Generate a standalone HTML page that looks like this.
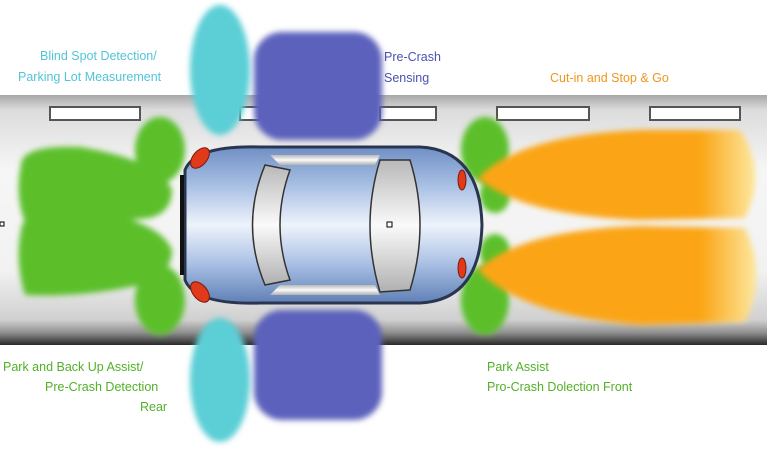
<!DOCTYPE html>
<html><head><meta charset="utf-8"><style>
html,body{margin:0;padding:0;background:#fff;width:767px;height:455px;overflow:hidden}
svg{display:block}
text{font-family:"Liberation Sans",sans-serif;font-size:12.5px}
</style></head><body>
<svg width="767" height="455" viewBox="0 0 767 455" xmlns="http://www.w3.org/2000/svg">
<defs>
<linearGradient id="road" x1="0" y1="0" x2="0" y2="1">
<stop offset="0" stop-color="#a8a8a8"/><stop offset="0.06" stop-color="#dcdcdc"/>
<stop offset="0.3" stop-color="#f6f6f6"/><stop offset="0.7" stop-color="#f2f2f2"/>
<stop offset="0.9" stop-color="#d0d0d0"/><stop offset="0.95" stop-color="#909090"/>
<stop offset="1" stop-color="#2a2a2a"/></linearGradient>
<linearGradient id="car" x1="0" y1="0" x2="0" y2="1">
<stop offset="0" stop-color="#6f8fc4"/><stop offset="0.25" stop-color="#a9c0e4"/>
<stop offset="0.5" stop-color="#eef3fb"/><stop offset="0.75" stop-color="#a9c0e4"/>
<stop offset="1" stop-color="#5f7fb6"/></linearGradient>
<linearGradient id="glass" x1="0" y1="0" x2="0" y2="1">
<stop offset="0" stop-color="#b8b8b8"/><stop offset="0.5" stop-color="#fafafa"/><stop offset="1" stop-color="#b0b0b0"/></linearGradient>
<linearGradient id="or" x1="0" y1="0" x2="1" y2="0">
<stop offset="0" stop-color="#fba514"/><stop offset="0.8" stop-color="#fba514"/><stop offset="1" stop-color="#fde8a0"/></linearGradient>
<filter id="b3" x="-20%" y="-20%" width="140%" height="140%"><feGaussianBlur stdDeviation="3"/></filter>
</defs>
<rect x="0" y="95" width="767" height="250" fill="url(#road)"/>
<g fill="#fff" stroke="#555" stroke-width="2">
<rect x="50" y="107" width="90" height="13"/><rect x="240" y="107" width="20" height="13"/>
<rect x="380" y="107" width="56" height="13"/><rect x="497" y="107" width="92" height="13"/>
<rect x="650" y="107" width="90" height="13"/></g>
<g fill="#5ccfd6" filter="url(#b3)">
<ellipse cx="220" cy="70" rx="30" ry="65"/><ellipse cx="220" cy="380" rx="30" ry="62"/></g>
<g fill="#5c62bc" filter="url(#b3)">
<rect x="254" y="32" width="128" height="108" rx="28"/><rect x="254" y="310" width="128" height="110" rx="28"/></g>
<g fill="#5cbf2a" filter="url(#b3)">
<path d="M22 160 Q30 145 80 147 Q160 160 172 190 Q172 212 150 218 Q80 225 25 222 Q14 195 22 160Z"/>
<path d="M22 225 Q30 208 80 208 Q160 220 172 250 Q172 275 140 285 Q80 298 25 295 Q14 260 22 225Z"/>
<ellipse cx="160" cy="150" rx="25" ry="33"/><ellipse cx="160" cy="300" rx="25" ry="35"/>
<ellipse cx="485" cy="150" rx="24" ry="33"/><ellipse cx="485" cy="300" rx="24" ry="35"/>
<ellipse cx="495" cy="195" rx="15" ry="18"/><ellipse cx="495" cy="252" rx="15" ry="18"/>
</g>
<g fill="url(#or)" filter="url(#b3)">
<path d="M478 178 Q520 135 640 130 L740 130 Q768 172 745 218 L640 220 Q520 215 478 178Z"/>
<path d="M478 270 Q520 230 640 226 L745 228 Q768 275 745 322 L640 325 Q520 315 478 270Z"/>
</g>
<path d="M185 170 Q195 145 260 147 L420 147 Q480 150 482 225 Q480 300 420 303 L260 303 Q195 305 185 280 Z" fill="url(#car)" stroke="#2a3550" stroke-width="3"/>
<path d="M182 175 L182 275" stroke="#111" stroke-width="4"/>
<path d="M265 165 Q240 225 265 285 L290 280 Q270 225 290 170Z" fill="url(#glass)" stroke="#333" stroke-width="1.5"/>
<path d="M380 160 Q360 225 380 292 L410 290 Q430 225 410 160Z" fill="url(#glass)" stroke="#333" stroke-width="1.5"/>
<path d="M270 155 L380 155 L375 165 L280 165Z" fill="url(#glass)"/>
<path d="M270 295 L380 295 L375 285 L280 285Z" fill="url(#glass)"/>
<g fill="#e03a1a" stroke="#7a1a0a"><ellipse cx="200" cy="158" rx="7" ry="12" transform="rotate(40 200 158)"/>
<ellipse cx="200" cy="292" rx="7" ry="12" transform="rotate(-40 200 292)"/>
<ellipse cx="462" cy="180" rx="4" ry="10"/><ellipse cx="462" cy="268" rx="4" ry="10"/></g>
<rect x="0" y="222" width="4" height="4" fill="#fff" stroke="#000"/>
<rect x="387" y="222" width="5" height="5" fill="#fff" stroke="#000"/>
<g fill="#52c4d6"><text x="40" y="60">Blind Spot Detection/</text><text x="18" y="81">Parking Lot Measurement</text></g>
<g fill="#4a52b0"><text x="384" y="61">Pre-Crash</text><text x="384" y="82">Sensing</text></g>
<text x="550" y="82" fill="#f0961a">Cut-in and Stop &amp; Go</text>
<g fill="#52b028"><text x="3" y="371">Park and Back Up Assist/</text><text x="45" y="391">Pre-Crash Detection</text><text x="140" y="411">Rear</text>
<text x="487" y="371">Park Assist</text><text x="487" y="391">Pro-Crash Dolection Front</text></g>
</svg>
</body></html>
